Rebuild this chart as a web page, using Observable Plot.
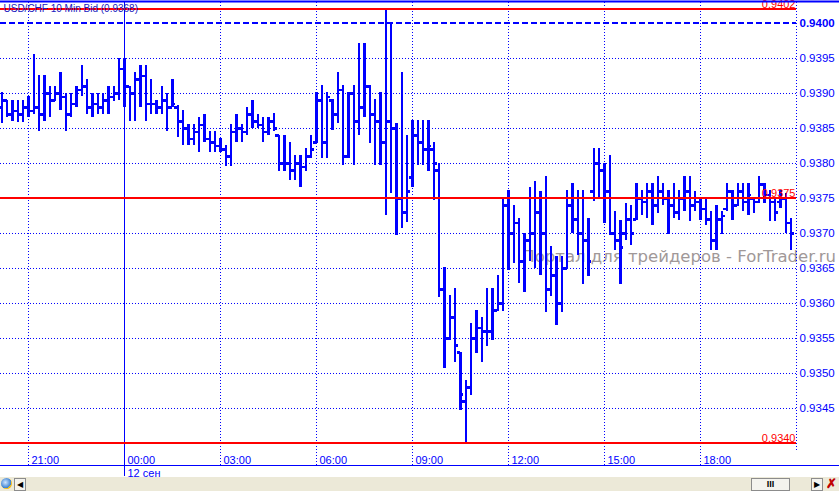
<!DOCTYPE html>
<html><head><meta charset="utf-8">
<script src="https://cdn.jsdelivr.net/npm/d3@7"></script>
<script src="https://cdn.jsdelivr.net/npm/@observablehq/plot@0.6"></script>
<style>
body{margin:0;background:#fff;font-family:Arial,"Liberation Sans",sans-serif}
#chart svg{display:block}
#scroll{position:relative;width:839px;height:14px;background:#ECE9D8;overflow:hidden}
#scroll .btn{position:absolute;top:1px;height:11px;border:1px solid #8c8c8c;background:#f4f3ee;font-size:8px;line-height:11px;text-align:center;color:#000}
#scroll .globe{position:absolute;left:1px;top:1px;width:11px;height:11px;border-radius:50%;background:radial-gradient(circle at 40% 40%,#cfe6ff,#3a7fd0 60%,#f0c020 61%,#e8a000)}
#scroll .x{position:absolute;left:826px;top:0px;font-size:13px;line-height:14px;color:#c00000;font-weight:bold}
</style></head><body>
<div id="chart"></div>
<div id="scroll">
  <div class="globe"></div>
  <div class="btn" style="left:14px;width:10px">&#9664;</div>
  <div class="btn" style="left:751px;width:37px;font-weight:bold;font-size:9px">III</div>
  <div class="btn" style="left:811px;width:10px">&#9654;</div>
  <div class="x">&#10007;</div>
</div>
<script>
// ---- data ----
const title = "USD/CHF 10 Min Bid (0.9368)";
const startTime = "2011-09-11T20:10:00Z";
const barMinutes = 10;
const opens = [
0.93880,0.93890,0.93870,0.93875,0.93870,0.93880,0.93875,0.93880,0.93870,0.93900,
0.93890,0.93900,0.93895,0.93870,0.93885,0.93905,0.93910,0.93880,0.93885,0.93880,
0.93890,0.93895,0.93900,0.93935,0.93910,0.93900,0.93920,0.93925,0.93885,0.93885,
0.93880,0.93890,0.93880,0.93880,0.93860,0.93850,0.93835,0.93845,0.93855,0.93835,
0.93830,0.93825,0.93820,0.93810,0.93845,0.93850,0.93845,0.93870,0.93860,0.93855,
0.93845,0.93860,0.93840,0.93800,0.93800,0.93790,0.93800,0.93795,0.93810,0.93830,
0.93890,0.93830,0.93890,0.93870,0.93905,0.93810,0.93900,0.93860,0.93880,0.93910,
0.93870,0.93860,0.93830,0.93860,0.93850,0.93750,0.93730,0.93780,0.93840,0.93830,
0.93820,0.93820,0.93790,0.93620,0.93550,0.93580,0.93530,0.93460,0.93480,0.93550,
0.93565,0.93560,0.93560,0.93590,0.93600,0.93740,0.93700,0.93715,0.93660,0.93690,
0.93700,0.93730,0.93700,0.93620,0.93640,0.93600,0.93650,0.93740,0.93720,0.93700,
0.93690,0.93760,0.93800,0.93790,0.93760,0.93700,0.93690,0.93700,0.93720,0.93720,
0.93750,0.93745,0.93760,0.93740,0.93760,0.93750,0.93740,0.93730,0.93750,0.93760,
0.93740,0.93745,0.93735,0.93720,0.93690,0.93720,0.93735,0.93760,0.93740,0.93760,
0.93745,0.93750,0.93745,0.93770,0.93755,0.93745,0.93745,0.93750,0.93715];
const highs = [
0.93902,0.93890,0.93890,0.93890,0.93890,0.93895,0.93955,0.93925,0.93925,0.93910,
0.93910,0.93930,0.93900,0.93900,0.93910,0.93940,0.93920,0.93900,0.93900,0.93900,
0.93910,0.93910,0.93950,0.93950,0.93910,0.93930,0.93940,0.93940,0.93920,0.93890,
0.93910,0.93900,0.93920,0.93883,0.93875,0.93855,0.93855,0.93865,0.93870,0.93845,
0.93845,0.93835,0.93825,0.93855,0.93870,0.93855,0.93880,0.93890,0.93870,0.93865,
0.93865,0.93871,0.93840,0.93840,0.93830,0.93811,0.93811,0.93821,0.93840,0.93902,
0.93911,0.93902,0.93892,0.93930,0.93911,0.93902,0.93911,0.93971,0.93971,0.93911,
0.93892,0.93902,0.94019,0.94000,0.93857,0.93930,0.93840,0.93861,0.93861,0.93861,
0.93861,0.93830,0.93800,0.93652,0.93611,0.93621,0.93530,0.93490,0.93571,0.93590,
0.93580,0.93621,0.93621,0.93640,0.93752,0.93761,0.93740,0.93721,0.93700,0.93765,
0.93774,0.93760,0.93781,0.93681,0.93667,0.93667,0.93762,0.93771,0.93762,0.93762,
0.93721,0.93821,0.93821,0.93800,0.93812,0.93731,0.93719,0.93743,0.93740,0.93771,
0.93762,0.93771,0.93771,0.93781,0.93771,0.93762,0.93771,0.93762,0.93781,0.93781,
0.93760,0.93752,0.93750,0.93731,0.93740,0.93731,0.93771,0.93762,0.93771,0.93771,
0.93771,0.93752,0.93781,0.93771,0.93762,0.93752,0.93762,0.93757,0.93721];
const lows = [
0.93857,0.93865,0.93860,0.93858,0.93858,0.93865,0.93870,0.93845,0.93860,0.93865,
0.93888,0.93875,0.93845,0.93865,0.93880,0.93895,0.93870,0.93865,0.93870,0.93870,
0.93870,0.93888,0.93890,0.93880,0.93860,0.93860,0.93880,0.93860,0.93870,0.93870,
0.93870,0.93845,0.93880,0.93837,0.93825,0.93825,0.93825,0.93815,0.93830,0.93815,
0.93815,0.93815,0.93795,0.93795,0.93830,0.93830,0.93840,0.93850,0.93850,0.93830,
0.93840,0.93845,0.93788,0.93788,0.93776,0.93776,0.93766,0.93788,0.93807,0.93828,
0.93807,0.93807,0.93847,0.93857,0.93797,0.93807,0.93797,0.93840,0.93866,0.93828,
0.93797,0.93797,0.93726,0.93757,0.93697,0.93707,0.93716,0.93766,0.93797,0.93797,
0.93788,0.93747,0.93609,0.93507,0.93547,0.93516,0.93447,0.93400,0.93469,0.93528,
0.93516,0.93538,0.93547,0.93588,0.93588,0.93647,0.93657,0.93628,0.93616,0.93660,
0.93650,0.93640,0.93587,0.93610,0.93569,0.93587,0.93648,0.93700,0.93669,0.93627,
0.93638,0.93745,0.93750,0.93714,0.93698,0.93676,0.93627,0.93690,0.93683,0.93719,
0.93726,0.93721,0.93712,0.93729,0.93740,0.93698,0.93721,0.93719,0.93731,0.93717,
0.93731,0.93719,0.93712,0.93676,0.93676,0.93698,0.93731,0.93719,0.93738,0.93731,
0.93726,0.93729,0.93743,0.93743,0.93717,0.93717,0.93736,0.93700,0.93676];
const closes = [
0.93890,0.93870,0.93875,0.93870,0.93880,0.93875,0.93880,0.93870,0.93900,0.93890,
0.93900,0.93895,0.93870,0.93885,0.93905,0.93910,0.93880,0.93885,0.93880,0.93890,
0.93895,0.93900,0.93935,0.93910,0.93900,0.93920,0.93925,0.93885,0.93885,0.93880,
0.93890,0.93880,0.93885,0.93860,0.93850,0.93835,0.93845,0.93855,0.93835,0.93830,
0.93825,0.93820,0.93810,0.93845,0.93850,0.93845,0.93870,0.93860,0.93855,0.93845,
0.93860,0.93850,0.93800,0.93800,0.93790,0.93800,0.93795,0.93810,0.93820,0.93890,
0.93830,0.93895,0.93870,0.93905,0.93810,0.93900,0.93860,0.93880,0.93910,0.93870,
0.93860,0.93830,0.93860,0.93850,0.93750,0.93730,0.93760,0.93840,0.93830,0.93820,
0.93825,0.93800,0.93620,0.93550,0.93580,0.93540,0.93470,0.93480,0.93550,0.93565,
0.93560,0.93560,0.93590,0.93600,0.93740,0.93700,0.93715,0.93660,0.93690,0.93700,
0.93730,0.93700,0.93620,0.93640,0.93600,0.93650,0.93740,0.93720,0.93700,0.93690,
0.93660,0.93800,0.93790,0.93760,0.93700,0.93690,0.93680,0.93720,0.93700,0.93750,
0.93745,0.93760,0.93740,0.93760,0.93750,0.93740,0.93730,0.93750,0.93760,0.93740,
0.93745,0.93735,0.93720,0.93690,0.93720,0.93725,0.93760,0.93740,0.93760,0.93745,
0.93755,0.93745,0.93770,0.93755,0.93745,0.93730,0.93750,0.93715,0.93700];

const xDomain = [new Date("2011-09-11T20:07:30Z"), new Date("2011-09-12T21:00:00Z")];
const yDomain = [0.9336857, 0.9403];
const gridTimes = ["2011-09-11T21:00Z","2011-09-12T03:00Z","2011-09-12T06:00Z","2011-09-12T09:00Z","2011-09-12T12:00Z","2011-09-12T15:00Z","2011-09-12T18:00Z"].map(d => new Date(d));
const dayTime = new Date("2011-09-12T00:00Z");
const timeLabels = ["2011-09-11T21:00Z","2011-09-12T00:00Z","2011-09-12T03:00Z","2011-09-12T06:00Z","2011-09-12T09:00Z","2011-09-12T12:00Z","2011-09-12T15:00Z","2011-09-12T18:00Z"].map(d => new Date(d));
const dayLabel = "12 сен";
const gridPrices = [0.9345,0.9350,0.9355,0.9360,0.9365,0.9370,0.9375,0.9380,0.9385,0.9390,0.9395];
const priceLabels = [0.9345,0.9350,0.9355,0.9360,0.9365,0.9370,0.9375,0.9380,0.9385,0.9390,0.9395];
const alertPrice = [0.9400];
const redLevels = [0.9402, 0.9375, 0.9340];
const watermark = [{t: new Date("2011-09-12T12:26Z"), p: 0.93659, text: "Портал для трейдеров - ForTrader.ru"}];

const bars = opens.map((o, i) => ({
  t: new Date(Date.parse(startTime) + i * barMinutes * 60000),
  open: o, high: highs[i], low: lows[i], close: closes[i]
}));

const BLUE = "#0000ff", RED = "#ff0000";
const tickMs = 6.5 * 60000;
const fmt = d3.format(".4f");

const chart = Plot.plot({
  width: 839, height: 477,
  marginLeft: 0, marginRight: 43, marginTop: 2, marginBottom: 12,
  x: {type: "utc", domain: xDomain, axis: null, label: null},
  y: {domain: yDomain, axis: null, label: null},
  style: {fontFamily: "Arial, 'Liberation Sans', sans-serif", background: "white", overflow: "visible"},
  marks: [
    Plot.text(watermark, {x: "t", y: "p", text: "text", fill: "#a09898", fontSize: 16.5, fontFamily: "DejaVu Sans", textAnchor: "start", lineAnchor: "bottom"}),
    Plot.ruleY(gridPrices, {stroke: BLUE, strokeDasharray: "1,2", strokeWidth: 1}),
    Plot.ruleX(gridTimes, {stroke: BLUE, strokeDasharray: "1,2", strokeWidth: 1}),
    Plot.ruleX([xDomain[1]], {stroke: BLUE, strokeDasharray: "1,2", strokeWidth: 1, insetBottom: 14}),
    Plot.ruleX([dayTime], {stroke: BLUE, strokeWidth: 1, insetBottom: -11}),
    // OHLC bars
    Plot.ruleX(bars, {x: "t", y1: "low", y2: "high", stroke: BLUE, strokeWidth: 2.3, shapeRendering: "crispEdges"}),
    Plot.ruleY(bars, {y: "open", x1: d => new Date(+d.t - tickMs), x2: "t", stroke: BLUE, strokeWidth: 2.3, shapeRendering: "crispEdges"}),
    Plot.ruleY(bars, {y: "close", x1: "t", x2: d => new Date(+d.t + tickMs), stroke: BLUE, strokeWidth: 2.3, shapeRendering: "crispEdges"}),
    // levels
    Plot.ruleY(alertPrice, {stroke: BLUE, strokeWidth: 2, strokeDasharray: "6,3", shapeRendering: "crispEdges"}),
    Plot.ruleY(redLevels, {stroke: RED, strokeWidth: 2, shapeRendering: "crispEdges"}),
    Plot.text(redLevels, {y: d => d, text: d => fmt(d), frameAnchor: "right", textAnchor: "end", lineAnchor: "bottom", dy: -1, dx: -1, fill: RED, fontSize: 11}),
    // frame lines
    Plot.ruleY([yDomain[1]], {stroke: BLUE, strokeWidth: 2, dy: -1, insetRight: -43}),
    Plot.ruleY([yDomain[0]], {stroke: BLUE, strokeWidth: 1, insetRight: -43}),
    // axes
    Plot.axisY({anchor: "right", label: null, ticks: priceLabels, tickSize: 0, tickPadding: 3, tickFormat: fmt, fill: BLUE, fontSize: 11.5, textAnchor: "start"}),
    Plot.axisY({anchor: "right", label: null, ticks: alertPrice, tickSize: 0, tickPadding: 3, tickFormat: fmt, fill: BLUE, fontSize: 11.5, fontWeight: "bold", textAnchor: "start"}),
    Plot.axisX({label: null, ticks: timeLabels, tickSize: 0, tickPadding: 0, tickFormat: d3.utcFormat("%H:%M"), textAnchor: "start", lineAnchor: "bottom", dx: 3, dy: -2, fill: BLUE, fontSize: 11}),
    Plot.text([dayTime], {x: d => d, text: [dayLabel], frameAnchor: "bottom", textAnchor: "start", lineAnchor: "bottom", dx: 3, dy: 11, fill: BLUE, fontSize: 11}),
    Plot.text([title], {frameAnchor: "top-left", text: d => d, textAnchor: "start", lineAnchor: "bottom", dx: 3, dy: 9, fill: "#2020c0", fontSize: 10})
  ]
});
document.getElementById("chart").appendChild(chart);
</script>
</body></html>
